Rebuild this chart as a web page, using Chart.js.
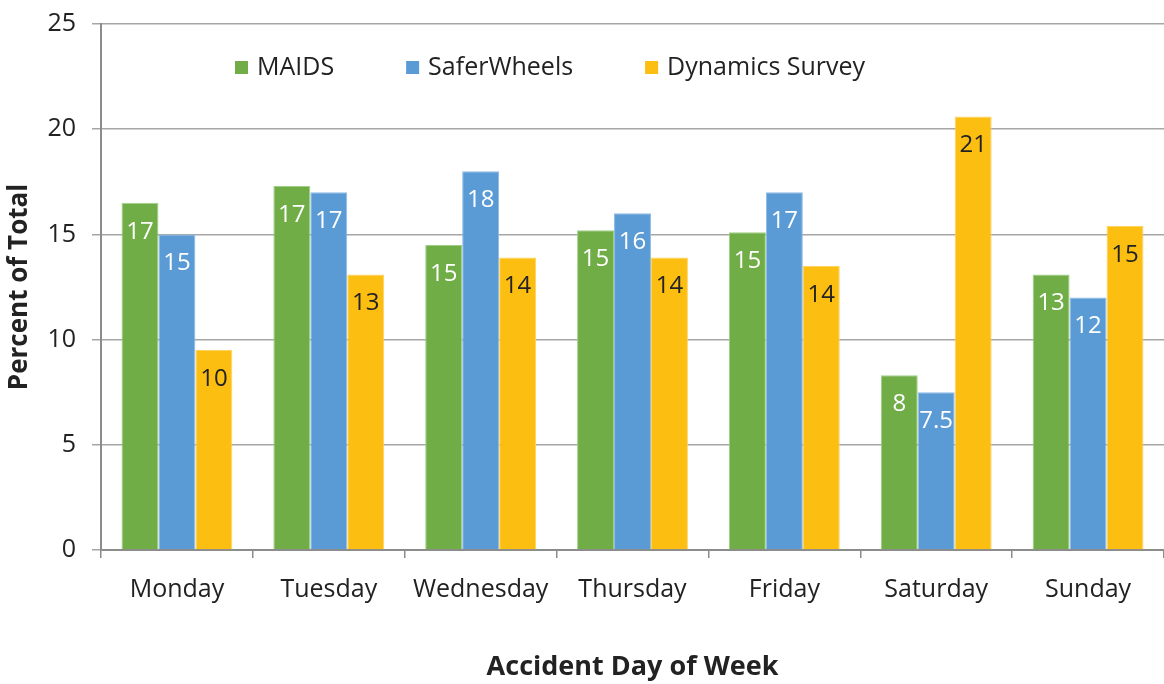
<!DOCTYPE html>
<html>
<head>
<meta charset="utf-8">
<script src="https://cdn.jsdelivr.net/npm/chart.js@4.4.0/dist/chart.umd.min.js"></script>
<style>
  html, body { margin: 0; padding: 0; background: #fff; }
  #wrap { width: 1164px; height: 684px; }
</style>
</head>
<body>
<div id="wrap"><canvas id="myChart"></canvas></div>
<script>
const days = ['Monday', 'Tuesday', 'Wednesday', 'Thursday', 'Friday', 'Saturday', 'Sunday'];
const maids = [16.5, 17.3, 14.5, 15.2, 15.1, 8.3, 13.1];
const saferWheels = [15.0, 17.0, 18.0, 16.0, 17.0, 7.5, 12.0];
const dynamics = [9.5, 13.1, 13.9, 13.9, 13.5, 20.6, 15.4];
// labels as printed on the bars
const maidsLabels = ['17', '17', '15', '15', '15', '8', '13'];
const saferLabels = ['15', '17', '18', '16', '17', '7.5', '12'];
const dynamicsLabels = ['10', '13', '14', '14', '14', '21', '15'];
const yTicks = [0, 5, 10, 15, 20, 25];

const FONT = "'Open Sans', sans-serif";
const TEXT = '#222';

// value labels just under the top of each bar
const barLabels = {
  id: 'barLabels',
  afterDatasetsDraw(chart) {
    const ctx = chart.ctx;
    ctx.save();
    ctx.font = '24px ' + FONT;
    ctx.textAlign = 'center';
    ctx.textBaseline = 'middle';
    chart.data.datasets.forEach((ds, i) => {
      const meta = chart.getDatasetMeta(i);
      meta.data.forEach((bar, j) => {
        ctx.fillStyle = ds.labelColor;
        ctx.fillText(ds.valueLabels[j], bar.x, bar.y + 29);
      });
    });
    ctx.restore();
  }
};

// legend sits inside the plot, items spread wide
const insideLegend = {
  id: 'insideLegend',
  afterDraw(chart) {
    const ctx = chart.ctx;
    const area = chart.chartArea;
    ctx.save();
    ctx.font = '25px ' + FONT;
    ctx.textBaseline = 'middle';
    ctx.textAlign = 'left';
    let x = area.left + 134;
    const y = 68;
    chart.data.datasets.forEach(ds => {
      ctx.fillStyle = ds.backgroundColor;
      ctx.fillRect(x, y - 7, 13, 13);
      ctx.fillStyle = TEXT;
      ctx.fillText(ds.label, x + 22, y);
      x += 22 + ctx.measureText(ds.label).width + 72;
    });
    ctx.restore();
  }
};

const ctx1 = document.getElementById('myChart').getContext('2d');
const myChart = new Chart(ctx1, {
  type: 'bar',
  data: {
    labels: days,
    datasets: [
      {
        label: 'MAIDS',
        data: maids,
        valueLabels: maidsLabels,
        labelColor: '#fff',
        backgroundColor: '#70AD47',
        borderColor: '#9fcf85',
        borderWidth: 1
      },
      {
        label: 'SaferWheels',
        data: saferWheels,
        valueLabels: saferLabels,
        labelColor: '#fff',
        backgroundColor: '#5B9BD5',
        borderColor: '#8dbbe6',
        borderWidth: 1
      },
      {
        label: 'Dynamics Survey',
        data: dynamics,
        valueLabels: dynamicsLabels,
        labelColor: TEXT,
        backgroundColor: '#FDBE12',
        borderColor: '#fdd35c',
        borderWidth: 1
      }
    ]
  },
  options: {
    responsive: true,
    maintainAspectRatio: false,
    animation: false,
    layout: { padding: { top: 24, right: 0, left: 0, bottom: 0 } },
    datasets: {
      bar: { categoryPercentage: 0.73, barPercentage: 1.0 }
    },
    scales: {
      x: {
        grid: {
          display: true,
          drawOnChartArea: false,
          drawTicks: true,
          tickLength: 8,
          color: '#8c8c8c',
          lineWidth: 1.5
        },
        border: { color: '#8c8c8c', width: 2 },
        ticks: {
          color: TEXT,
          font: { family: FONT, size: 25 },
          padding: 17
        },
        title: {
          display: true,
          text: 'Accident Day of Week',
          color: TEXT,
          font: { family: FONT, size: 27, weight: 'bold' },
          padding: { top: 0, bottom: 0 }
        },
        afterFit(scale) { scale.height = 134; }
      },
      y: {
        min: 0,
        max: 25,
        afterBuildTicks(scale) { scale.ticks = yTicks.map(v => ({ value: v })); },
        grid: {
          color: '#a6a6a6',
          lineWidth: 1.5,
          tickLength: 9
        },
        border: { color: '#8c8c8c', width: 2 },
        ticks: {
          color: TEXT,
          font: { family: FONT, size: 25 },
          padding: 16
        },
        title: {
          display: true,
          text: 'Percent of Total',
          color: TEXT,
          font: { family: FONT, size: 26, weight: 'bold' },
          padding: { top: 4, bottom: 0 }
        },
        afterFit(scale) {
          scale.width = 101;
          scale.paddingTop = 0;
          scale.paddingBottom = 0;
        }
      }
    },
    plugins: {
      legend: { display: false },
      tooltip: { enabled: false }
    }
  },
  plugins: [barLabels, insideLegend]
});
</script>
</body>
</html>
